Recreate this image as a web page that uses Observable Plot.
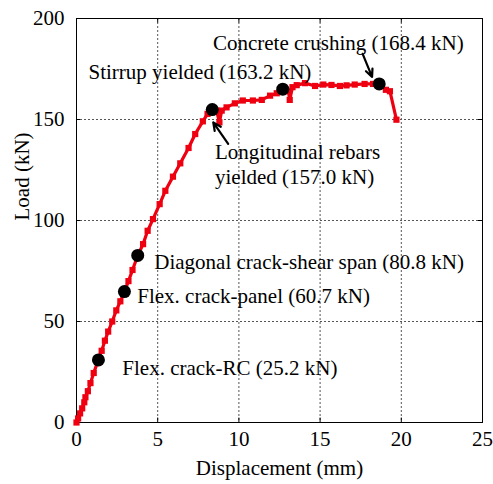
<!DOCTYPE html>
<html>
<head>
<meta charset="utf-8">
<script src="https://cdn.jsdelivr.net/npm/d3@7"></script>
<script src="https://cdn.jsdelivr.net/npm/@observablehq/plot@0.6"></script>
<style>
  html, body { margin: 0; padding: 0; background: #fff; }
</style>
</head>
<body>
<div id="chart"></div>
<script>
// Load–displacement curve
const disp = [0, 0.1, 0.22, 0.35, 0.48, 0.55, 0.7, 0.86, 1.06, 1.3, 1.55, 1.75, 1.95, 2.2, 2.45, 2.7, 2.95, 3.2, 3.45, 3.77,
  4.1, 4.38, 4.71, 5.12, 5.47, 5.94, 6.39, 6.9, 7.31, 7.78, 8.07, 8.36, 8.63, 8.8, 8.94, 9.24, 9.75, 10.24, 10.86, 11.41,
  11.92, 12.33, 12.7, 13.05, 13.13, 13.3, 13.56, 14.07, 14.69, 15.2, 15.7, 16.22, 16.63, 17.13, 17.74, 18.26, 18.64,
  19.05, 19.3, 19.7];
const load = [0, 2, 4.5, 7, 10, 12.5, 15.5, 19.5, 24.5, 30, 35.5, 40.5, 45, 50, 55.5, 60, 64.8, 70, 75.5, 82.7,
  88.3, 94.9, 100.7, 108.1, 114.7, 121.7, 128.3, 135.9, 142.8, 149.1, 152.8, 154.9, 154.4, 148.6, 154.4, 156, 158, 159.4, 159.4, 159.7,
  161.8, 163, 165, 164, 159.7, 166, 167, 168, 166.6, 167.3, 167.1, 166.6, 166.9, 167.3, 167.6, 167.6, 167.6,
  164.7, 164, 149.9];

// Key events (black dots)
const eventDisp = [1.35, 2.95, 3.77, 8.36, 12.7, 18.64];
const eventLoad = [31, 64.8, 82.7, 154.9, 165, 167.6];

// Annotation texts
const labelText = [
  "Flex. crack-RC (25.2 kN)",
  "Flex. crack-panel (60.7 kN)",
  "Diagonal crack-shear span (80.8 kN)",
  "Longitudinal rebars\nyielded (157.0 kN)",
  "Stirrup yielded (163.2 kN)",
  "Concrete crushing (168.4 kN)"
];
const labelX = [2.82, 3.74, 4.79, 8.53, 0.74, 8.4];
const labelY = [27.5, 63.2, 80, 128.2, 174.2, 188.2];

// Arrows (from text toward the point)
const arrowX1 = [9.34, 17.62];
const arrowY1 = [137.9, 182.5];
const arrowX2 = [8.42, 18.2];
const arrowY2 = [148.6, 171.1];

// Ticks and axis titles
const xTicks = [0, 5, 10, 15, 20, 25];
const yTicks = [0, 50, 100, 150, 200];
const xGrid = [5, 10, 15, 20];
const yGrid = [50, 100, 150];
const xTitle = "Displacement (mm)";
const yTitle = "Load (kN)";

const curve = disp.map((d, i) => ({disp: d, load: load[i]}));
const events = eventDisp.map((d, i) => ({disp: d, load: eventLoad[i]}));
const labels = labelText.map((t, i) => ({text: t, x: labelX[i], y: labelY[i]}));
const arrows = arrowX1.map((d, i) => ({x1: d, y1: arrowY1[i], x2: arrowX2[i], y2: arrowY2[i]}));

const red = "#ee0010";
const fs = 21;

const chart = Plot.plot({
  width: 493,
  height: 484,
  marginLeft: 76,
  marginRight: 11,
  marginTop: 18,
  marginBottom: 62,
  style: {fontFamily: "'Liberation Serif', 'Times New Roman', serif", fontSize: fs + "px", background: "#fff", color: "#000"},
  x: {domain: [0, 25]},
  y: {domain: [0, 200]},
  marks: [
    Plot.ruleX(xGrid, {stroke: "#555", strokeDasharray: "2,2", strokeWidth: 1}),
    Plot.ruleY(yGrid, {stroke: "#555", strokeDasharray: "2,2", strokeWidth: 1}),
    Plot.ruleX(xGrid, {y1: 0, y2: 2.2, stroke: "#000"}),
    Plot.ruleX(xGrid, {y1: 197.8, y2: 200, stroke: "#000"}),
    Plot.ruleY(yGrid, {x1: 0, x2: 0.25, stroke: "#000"}),
    Plot.ruleY(yGrid, {x1: 24.75, x2: 25, stroke: "#000"}),
    Plot.frame({stroke: "#000", strokeWidth: 1}),
    Plot.axisX({ticks: xTicks, tickSize: 0, tickPadding: 9, fontSize: fs, label: null}),
    Plot.axisY({ticks: yTicks, tickSize: 0, tickPadding: 12, fontSize: fs, label: null}),
    Plot.text([xTitle], {frameAnchor: "bottom", lineAnchor: "middle", dy: 45.5, fontSize: fs, fill: "#000"}),
    Plot.text([yTitle], {frameAnchor: "left", lineAnchor: "middle", dx: -54, rotate: -90, fontSize: fs, fill: "#000"}),
    Plot.line(curve, {x: "disp", y: "load", stroke: red, strokeWidth: 3.2, strokeLinejoin: "round"}),
    Plot.dot(curve, {x: "disp", y: "load", symbol: "square", r: 3.5, fill: red, stroke: "none"}),
    Plot.dot(events, {x: "disp", y: "load", r: 6.5, fill: "#000", stroke: "none"}),
    Plot.arrow(arrows, {x1: "x1", y1: "y1", x2: "x2", y2: "y2", stroke: "#000", strokeWidth: 2.2, headLength: 9, headAngle: 50}),
    Plot.text(labels, {x: "x", y: "y", text: "text", textAnchor: "start", fontSize: fs, fill: "#000", lineHeight: 1.2})
  ]
});
document.getElementById("chart").appendChild(chart);
</script>
</body>
</html>
